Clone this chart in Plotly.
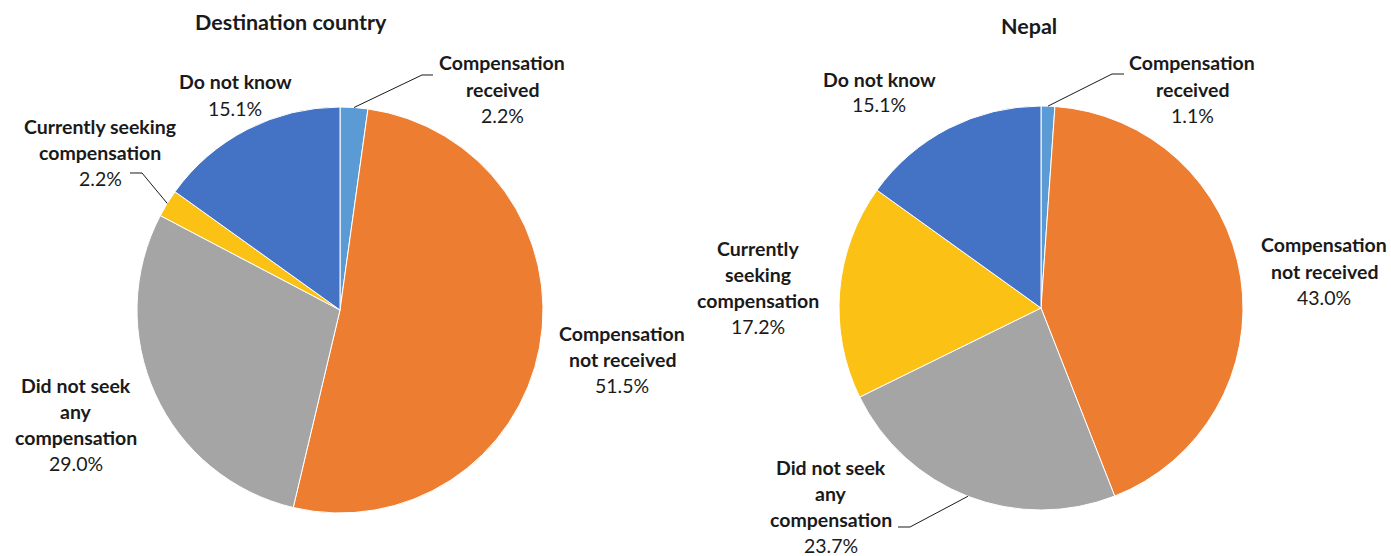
import math
import plotly.graph_objects as go

# ---- data ----
categories = ["Compensation received", "Compensation not received",
              "Did not seek any compensation", "Currently seeking compensation",
              "Do not know"]
destination_values = [2.2, 51.5, 29.0, 2.2, 15.1]
nepal_values = [1.1, 43.0, 23.7, 17.2, 15.1]
titles = ["Destination country", "Nepal"]

# label text lines (bold part) per category, for each chart
dest_label_lines = [["Compensation", "received"],
                    ["Compensation", "not received"],
                    ["Did not seek", "any", "compensation"],
                    ["Currently seeking", "compensation"],
                    ["Do not know"]]
nepal_label_lines = [["Compensation", "received"],
                     ["Compensation", "not received"],
                     ["Did not seek", "any", "compensation"],
                     ["Currently", "seeking", "compensation"],
                     ["Do not know"]]

# ---- styling / layout ----
W, H = 1391, 556
colors = ["#5B9BD5", "#ED7D31", "#A5A5A5", "#FBC115", "#4472C4"]
FONT = "Lato"
TXT = "#1a1a1a"
LINE_H = 26
LABEL_SIZE = 19.5
TITLE_SIZE = 21.5

# pie geometry in pixels: (cx, cy, r)
pies = [(340, 310, 203), (1041, 308, 202)]
title_pos = [(291, 22), (1029, 26)]

# label block placement: (center x, first line y) in pixels
dest_label_pos = [(502, 63), (622, 333), (76, 385), (100, 126), (235, 82)]
nepal_label_pos = [(1192, 63), (1324, 245), (831, 467), (758, 248), (879, 79)]

# leader lines: category index -> (elbow point, end of horizontal tick)
dest_leaders = {0: ((422, 75), (433, 75)), 3: ((142, 173), (130, 173))}
nepal_leaders = {0: ((1112, 74), (1124, 74)), 2: ((910, 527), (898, 527))}


def px(x):
    return x / W


def py(y):
    return 1 - y / H


def slice_edge_point(values, idx, cx, cy, r):
    """Point on the rim at the middle angle of a slice (clockwise from 12 o'clock)."""
    total = sum(values)
    before = sum(values[:idx])
    frac = (before + values[idx] / 2) / total
    ang = 2 * math.pi * frac
    return cx + r * math.sin(ang), cy - r * math.cos(ang)


fig = go.Figure()
annotations = []
shapes = []

charts = [
    (destination_values, dest_label_lines, dest_label_pos, dest_leaders),
    (nepal_values, nepal_label_lines, nepal_label_pos, nepal_leaders),
]

for k, (vals, lines, lpos, leaders) in enumerate(charts):
    cx, cy, r = pies[k]
    fig.add_trace(go.Pie(
        labels=categories, values=vals, sort=False, direction="clockwise",
        rotation=0, textinfo="none", hoverinfo="label+value",
        marker=dict(colors=colors, line=dict(color="white", width=1)),
        domain=dict(x=[px(cx - r), px(cx + r)], y=[py(cy + r), py(cy - r)]),
        showlegend=False,
    ))
    tx, ty = title_pos[k]
    annotations.append(dict(
        x=px(tx), y=py(ty), xref="paper", yref="paper", showarrow=False,
        text="<b>%s</b>" % titles[k], xanchor="center", yanchor="middle",
        font=dict(family=FONT, size=TITLE_SIZE, color=TXT)))

    for i, cat in enumerate(categories):
        lx, ly = lpos[i]
        block = ["<b>%s</b>" % s for s in lines[i]] + ["%.1f%%" % vals[i]]
        for j, t in enumerate(block):
            annotations.append(dict(
                x=px(lx), y=py(ly + j * LINE_H), xref="paper", yref="paper",
                showarrow=False, text=t, xanchor="center", yanchor="middle",
                font=dict(family=FONT, size=LABEL_SIZE, color=TXT)))
        if i in leaders:
            (ex, ey), (hx, hy) = leaders[i]
            sx, sy = slice_edge_point(vals, i, cx, cy, r)
            path = "M %f %f L %f %f L %f %f" % (px(sx), py(sy), px(ex), py(ey), px(hx), py(hy))
            shapes.append(dict(type="path", xref="paper", yref="paper", path=path,
                               line=dict(color="#1a1a1a", width=1)))

fig.update_layout(
    width=W, height=H, margin=dict(l=0, r=0, t=0, b=0),
    paper_bgcolor="white", plot_bgcolor="white",
    annotations=annotations, shapes=shapes,
)

fig.write_html("out.html")
